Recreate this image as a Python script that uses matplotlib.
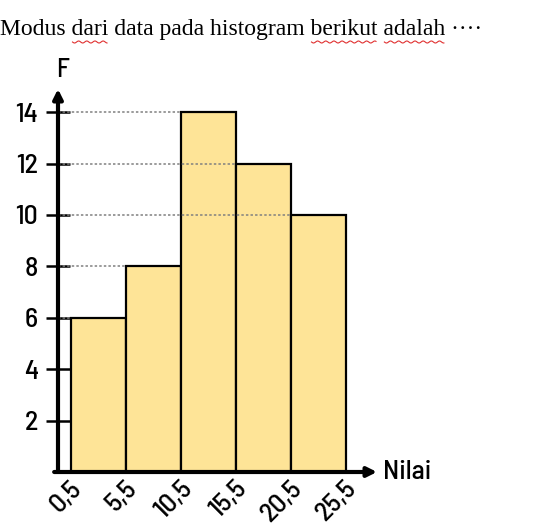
import matplotlib
matplotlib.use("Agg")
import matplotlib.pyplot as plt
import matplotlib.transforms as mtransforms
import numpy as np

# data
edges = [0.5, 5.5, 10.5, 15.5, 20.5, 25.5]
freq = [6, 8, 14, 12, 10]
yticks = [2, 4, 6, 8, 10, 12, 14]
xlabels = ["0,5", "5,5", "10,5", "15,5", "20,5", "25,5"]
title = "Modus dari data pada histogram berikut adalah ····"
flagged = ["dari", "berikut", "adalah"]

W, H = 541, 529
label_font = ["Barlow Semi Condensed", "DejaVu Sans"]
lw_font = dict(family=label_font, weight=500)

fig = plt.figure(figsize=(W / 100, H / 100), dpi=100)
# axes box in pixels: y-axis at x=58, x-axis at y=472, arrow tips at 377 / 89
ax = fig.add_axes([58 / W, (H - 472) / H, (377 - 58) / W, (472 - 89) / H])
ax.set_xlim(-0.68, 28.3)
ax.set_ylim(0, 14.9)

lefts = np.array(edges[:-1])
widths = np.diff(edges)
ax.bar(lefts, freq, width=widths, align="edge", color="#fee497",
       edgecolor="black", linewidth=1.6, zorder=2)

# dotted guide lines from the axis to the bar with that height
for left, f in zip(lefts, freq):
    ax.hlines(f, -0.68, left, colors="#808080", linestyles=(0, (1.6, 1.4)),
              linewidth=1.1, zorder=3)

for s in ax.spines.values():
    s.set_visible(False)
ax.annotate("", xy=(1, 0), xytext=(-0.012, 0), xycoords="axes fraction",
            arrowprops=dict(arrowstyle="-|>", color="black", lw=3.0,
                            mutation_scale=14, shrinkA=0, shrinkB=0), zorder=5)
ax.annotate("", xy=(0, 1), xytext=(0, 0), xycoords="axes fraction",
            arrowprops=dict(arrowstyle="-|>", color="black", lw=3.0,
                            mutation_scale=14, shrinkA=0, shrinkB=0), zorder=5)

ax.set_yticks(yticks)
ax.set_yticklabels([str(v) for v in yticks], fontsize=20, **lw_font)
ax.tick_params(axis="y", direction="inout", length=17, width=1.8, pad=6)
ax.set_xticks(edges)
ax.set_xticklabels(xlabels, fontsize=20, rotation=45, ha="right", va="center",
                   rotation_mode="anchor", **lw_font)
ax.tick_params(axis="x", length=0, pad=9)
shift = mtransforms.ScaledTranslation(7 / 100, 0, fig.dpi_scale_trans)
for lab in ax.get_xticklabels():
    lab.set_transform(lab.get_transform() + shift)

ax.annotate("Nilai", xy=(1, 0), xycoords="axes fraction", xytext=(4, 0),
            textcoords="offset points", ha="left", va="center",
            fontsize=20, **lw_font)
ax.annotate("F", xy=(0, 1), xycoords="axes fraction", xytext=(3, 5),
            textcoords="offset points", ha="center", va="bottom",
            fontsize=19, **lw_font)

# question text with spell-check squiggles
tfs = 17
tx, ty = 0.0, 30
fig.text(tx / W, 1 - ty / H, title, family="Liberation Serif",
         fontsize=tfs, ha="left", va="center")
fig.canvas.draw()
r = fig.canvas.get_renderer()
for word in flagged:
    i = title.index(word)
    pre = fig.text(0, 0, title[:i], family="Liberation Serif", fontsize=tfs)
    full = fig.text(0, 0, title[:i + len(word)], family="Liberation Serif", fontsize=tfs)
    x0 = tx + pre.get_window_extent(r).width + 1
    x1 = tx + full.get_window_extent(r).width - 1
    pre.remove()
    full.remove()
    xs = np.arange(x0, x1, 0.5)
    ys = 42 + 1.0 * np.sin((xs - x0) / 1.3)
    fig.add_artist(plt.Line2D(xs / W, 1 - ys / H, color="#e03030", lw=0.8))

fig.savefig("out.png", dpi=100)
